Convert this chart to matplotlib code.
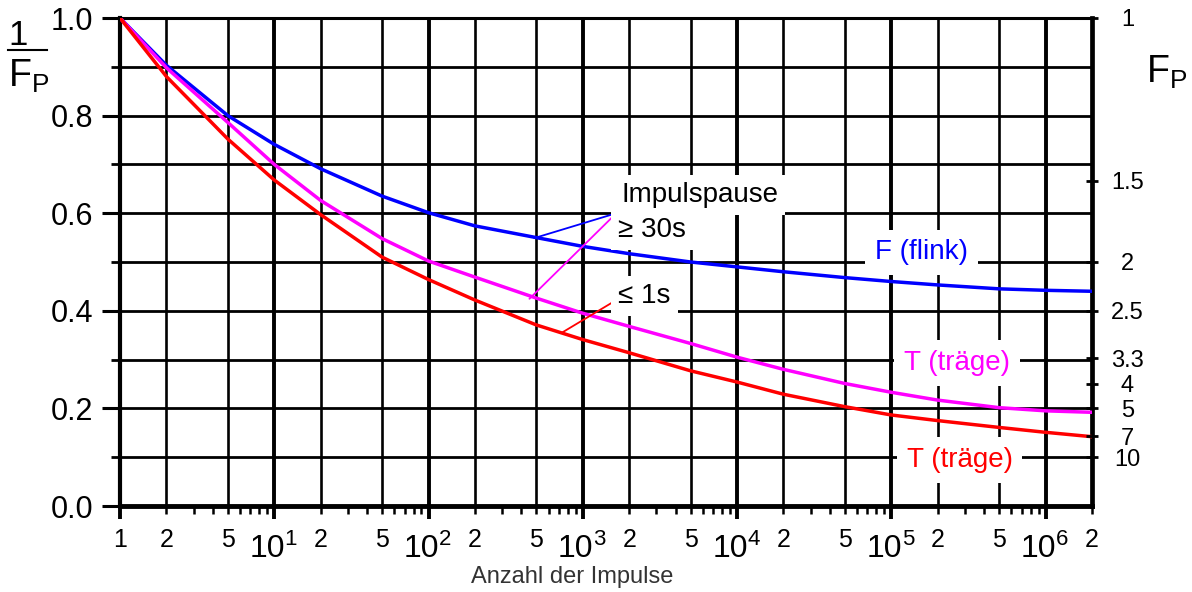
import numpy as np
import matplotlib
matplotlib.use("Agg")
import matplotlib.pyplot as plt
from matplotlib.lines import Line2D

plt.rcParams['font.family'] = ['Liberation Sans', 'DejaVu Sans']
plt.rcParams['mathtext.fontset'] = 'custom'
plt.rcParams['mathtext.rm'] = 'Liberation Sans'
plt.rcParams['mathtext.it'] = 'Liberation Sans:italic'
plt.rcParams['mathtext.bf'] = 'Liberation Sans:bold'

# number of pulses (log scale) and 1/F_P at the grid lines
pulses = [1, 2, 5, 10, 20, 50, 100, 200, 500, 1e3, 2e3, 5e3,
          1e4, 2e4, 5e4, 1e5, 2e5, 5e5, 1e6, 2e6]
flink = [1.0, 0.903, 0.800, 0.741, 0.691, 0.635, 0.601, 0.574, 0.550, 0.532,
         0.517, 0.500, 0.490, 0.480, 0.468, 0.460, 0.453, 0.445, 0.442, 0.440]
traege_30s = [1.0, 0.898, 0.786, 0.700, 0.626, 0.548, 0.502, 0.469, 0.426, 0.395,
              0.368, 0.333, 0.305, 0.280, 0.251, 0.233, 0.217, 0.2015, 0.195, 0.192]
traege_1s = [1.0, 0.880, 0.752, 0.668, 0.597, 0.510, 0.464, 0.422, 0.371, 0.341,
             0.314, 0.277, 0.254, 0.229, 0.2035, 0.1865, 0.175, 0.161, 0.151, 0.142]

# right axis: F_P values
fp_values = [1, 1.5, 2, 2.5, 3.3, 4, 5, 7, 10]
fp_labels = ['1', '1.5', '2', '2.5', '3.3', '4', '5', '7', '10']

# x tick labels
small_ticks = [1, 2, 5, 20, 50, 200, 500, 2e3, 5e3, 2e4, 5e4, 2e5, 5e5, 2e6]
small_labels = ['1', '2', '5', '2', '5', '2', '5', '2', '5', '2', '5', '2', '5', '2']
decades = [10, 100, 1e3, 1e4, 1e5, 1e6]
decade_exp = ['1', '2', '3', '4', '5', '6']

BLUE = '#0000ff'
MAGENTA = '#ff00ff'
RED = '#ff0000'

W, H = 1192, 592
fig = plt.figure(figsize=(W / 100, H / 100), dpi=100)
ax = fig.add_axes([120 / W, 1 - 506 / H, 972 / W, 488 / H])
ax.set_xscale('log')
ax.set_xlim(1, 2e6)
ax.set_ylim(0, 1)

# grid: 1-2-5 lines, decades thicker
for e in range(7):
    for m in (1, 2, 5):
        xv = m * 10 ** e
        if 1 < xv < 2e6:
            ax.axvline(xv, color='black', lw=2.8 if m == 1 else 1.9, zorder=1)
for yv in np.arange(1, 10) / 10:
    ax.axhline(yv, color='black', lw=2.0, zorder=1)

for sp, lw in (('left', 3.0), ('bottom', 3.5), ('top', 2.2), ('right', 3.4)):
    ax.spines[sp].set_linewidth(lw)
    ax.spines[sp].set_zorder(2)

ax.plot(pulses, flink, color=BLUE, lw=2.5, zorder=3)
ax.plot(pulses, traege_30s, color=MAGENTA, lw=2.5, zorder=3)
ax.plot(pulses, traege_1s, color=RED, lw=2.5, zorder=3)

# y axis ticks
ax.set_yticks(np.arange(0, 1.01, 0.2))
ax.set_yticks(np.arange(0.1, 1.0, 0.2), minor=True)
ax.set_yticklabels(['0.0', '0.2', '0.4', '0.6', '0.8', '1.0'], fontsize=22)
ax.tick_params(axis='y', which='major', length=13, width=2.2, pad=6)
ax.tick_params(axis='y', which='minor', length=6.5, width=2.0)

# x axis ticks
ax.set_xticks([1] + decades)
ax.xaxis.set_minor_locator(matplotlib.ticker.LogLocator(base=10, subs=np.arange(2, 10), numticks=30))
ax.set_xticklabels([])
ax.xaxis.set_minor_formatter(matplotlib.ticker.NullFormatter())
ax.tick_params(axis='x', which='major', length=9.5, width=2.8)
ax.tick_params(axis='x', which='minor', length=5.5, width=1.8)

xt = ax.get_xaxis_transform()
for xv, s in zip(small_ticks, small_labels):
    ax.annotate(s, xy=(xv, 0), xycoords=xt, xytext=(0, -15.5), textcoords='offset points',
                ha='center', va='top', fontsize=18, annotation_clip=False)
for xv, s in zip(decades, decade_exp):
    ax.annotate('10', xy=(xv, 0), xycoords=xt, xytext=(-5, -20.5), textcoords='offset points',
                ha='center', va='top', fontsize=23, annotation_clip=False)
    ax.annotate(s, xy=(xv, 0), xycoords=xt, xytext=(7.5, -16.5), textcoords='offset points',
                ha='left', va='top', fontsize=16, annotation_clip=False)

# right axis with F_P
ax2 = ax.twinx()
ax2.set_ylim(0, 1)
ax2.set_yticks([1 / f for f in fp_values])
ax2.set_yticklabels(fp_labels, fontsize=17)
ax2.tick_params(axis='y', direction='inout', length=9, width=2.0, pad=21)
for lab in ax2.get_yticklabels():
    lab.set_horizontalalignment('center')
for sp in ax2.spines.values():
    sp.set_visible(False)

# annotations
box = dict(boxstyle='square,pad=0.25', fc='white', ec='none')
ax.text(1780, 0.637, 'Impulspause', fontsize=20, ha='left', va='center', bbox=box, zorder=5)
ax.text(1700, 0.566, '\u2265 30s', fontsize=20, ha='left', va='center', bbox=box, zorder=5)
ax.text(1700, 0.430, '\u2264 1s', fontsize=20, ha='left', va='center', bbox=box, zorder=5)

leader = dict(arrowstyle='-', lw=1.3, shrinkA=0, shrinkB=0)
ax.annotate('', xy=(485, 0.549), xytext=(1650, 0.600),
            arrowprops=dict(leader, color=BLUE), zorder=4)
ax.annotate('', xy=(451, 0.4246), xytext=(1650, 0.600),
            arrowprops=dict(leader, color=MAGENTA), zorder=4)
ax.annotate('', xy=(726, 0.3545), xytext=(1650, 0.422),
            arrowprops=dict(leader, color=RED), zorder=4)

lbox = dict(boxstyle='square,pad=0.35', fc='white', ec='none')
ax.text(157000, 0.520, 'F (flink)', color=BLUE, fontsize=20, ha='center', va='center',
        bbox=lbox, zorder=5)
ax.text(267000, 0.293, 'T (träge)', color=MAGENTA, fontsize=20, ha='center', va='center',
        bbox=lbox, zorder=5)
ax.text(277000, 0.094, 'T (träge)', color=RED, fontsize=20, ha='center', va='center',
        bbox=lbox, zorder=5)

# axis titles
fig.text(8 / W, 1 - 45 / H, '1', fontsize=25, ha='left', va='baseline')
fig.add_artist(Line2D([8 / W, 47 / W], [1 - 50 / H, 1 - 50 / H], color='black', lw=1.5,
                      transform=fig.transFigure))
fig.text(8 / W, 1 - 87 / H, r'$\mathrm{F_P}$', fontsize=27, ha='left', va='baseline')
fig.text(1146 / W, 1 - 83 / H, r'$\mathrm{F_P}$', fontsize=27, ha='left', va='baseline')
fig.text(572 / W, 1 - 577 / H, 'Anzahl der Impulse', fontsize=17, color='#333333',
         ha='center', va='center')

fig.savefig('out.png', dpi=100)
